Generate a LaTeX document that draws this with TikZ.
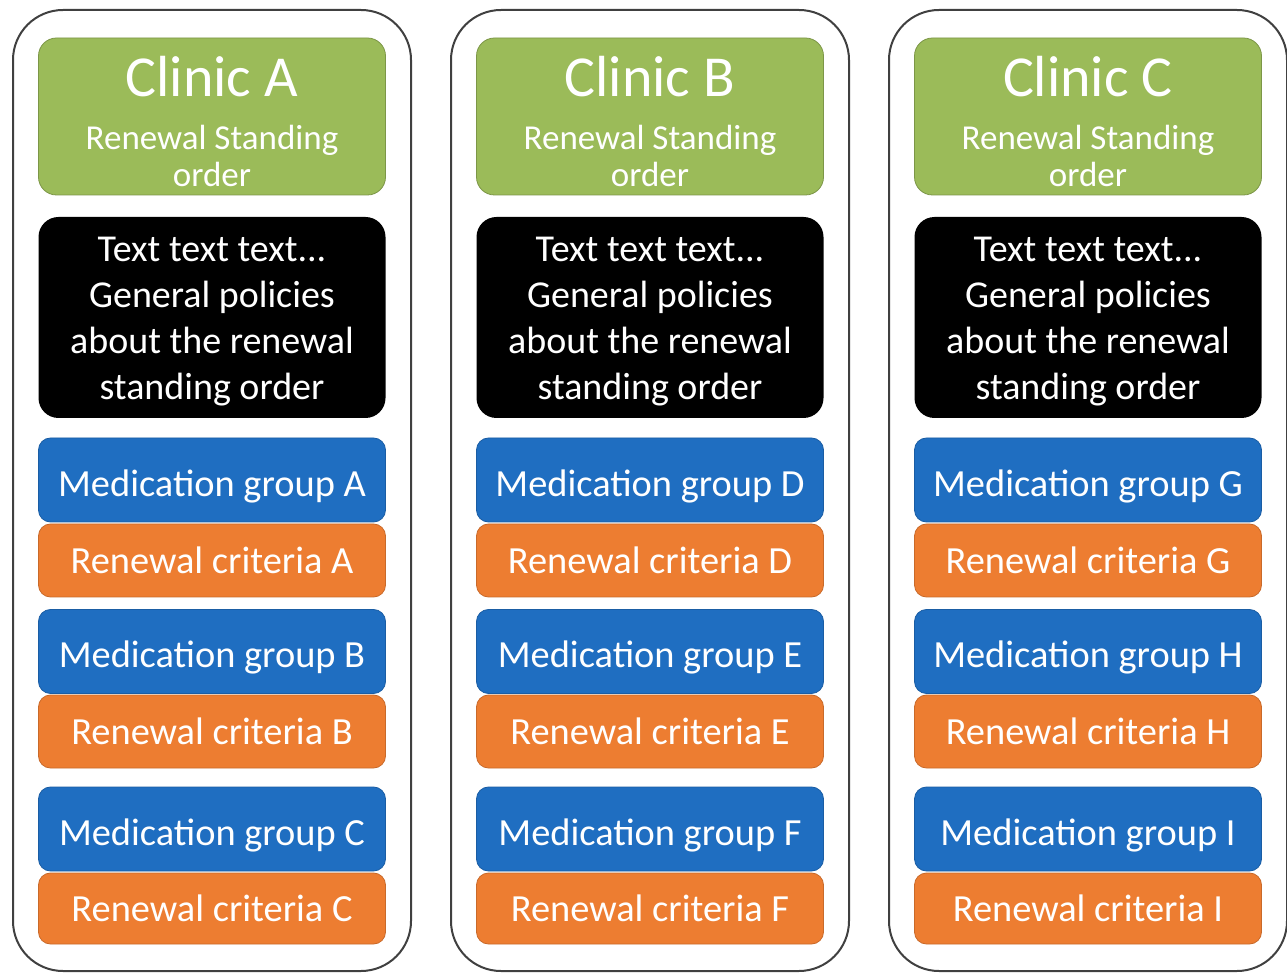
\documentclass[tikz,border=0pt]{standalone}
\usepackage{fontspec}
\setmainfont{Carlito}
\definecolor{clinicgreen}{HTML}{9BBB59}
\definecolor{medblue}{HTML}{1F6EC1}
\definecolor{critorange}{HTML}{ED7D31}
\tikzset{
    column/.style={draw=black!75, line width=1pt, rounded corners=25pt, fill=white},
    box/.style={text=white, minimum width=173.5pt, rounded corners=6pt, align=center, inner sep=0pt},
    clinicbox/.style={box, fill=clinicgreen, draw=clinicgreen!80!black, minimum height=78.5pt, rounded corners=9pt, font=\fontsize{17.5}{18.5}\selectfont},
    policybox/.style={box, fill=black, minimum height=100.5pt, rounded corners=10pt, font=\fontsize{19}{23}\selectfont},
    medbox/.style={box, fill=medblue, draw=medblue!85!black, minimum height=42pt, text height=16.4pt, text depth=0pt, font=\fontsize{19.2}{21}\selectfont},
    critbox/.style={box, fill=critorange, draw=critorange!85!black, minimum height=36.5pt, text height=13.4pt, text depth=0pt, font=\fontsize{19.2}{21}\selectfont},
}
\begin{document}
\begin{tikzpicture}[x=0.5pt, y=-0.5pt]
    \useasboundingbox (0,0) rectangle (1287,973);
    \foreach \cl/\cx/\ga/\gb/\gc in {A/212/A/B/C, B/650/D/E/F, C/1088/G/H/I} {
        \draw[column] (\cx-199,10) rectangle (\cx+199,971); % outer frame
        \node[clinicbox] (clinic\cl) at (\cx,116.5)
            {\rule{0pt}{25pt}{\fontsize{29}{30}\selectfont Clinic \cl}\\[8pt]Renewal Standing\\order};
        \node[policybox] (policy\cl) at (\cx,317.5)
            {\rule{0pt}{16.2pt}Text text text...\\General policies\\about the renewal\\standing order};
        \node[medbox] (med\ga) at (\cx,480) {Medication group \ga};
        \node[critbox] (crit\ga) at (\cx,560.5) {Renewal criteria \ga};
        \node[medbox] (med\gb) at (\cx,651.5) {Medication group \gb};
        \node[critbox] (crit\gb) at (\cx,731.5) {Renewal criteria \gb};
        \node[medbox] (med\gc) at (\cx,829) {Medication group \gc};
        \node[critbox, minimum height=35.5pt] (crit\gc) at (\cx,908.5) {Renewal criteria \gc};
    }
\end{tikzpicture}
\end{document}
